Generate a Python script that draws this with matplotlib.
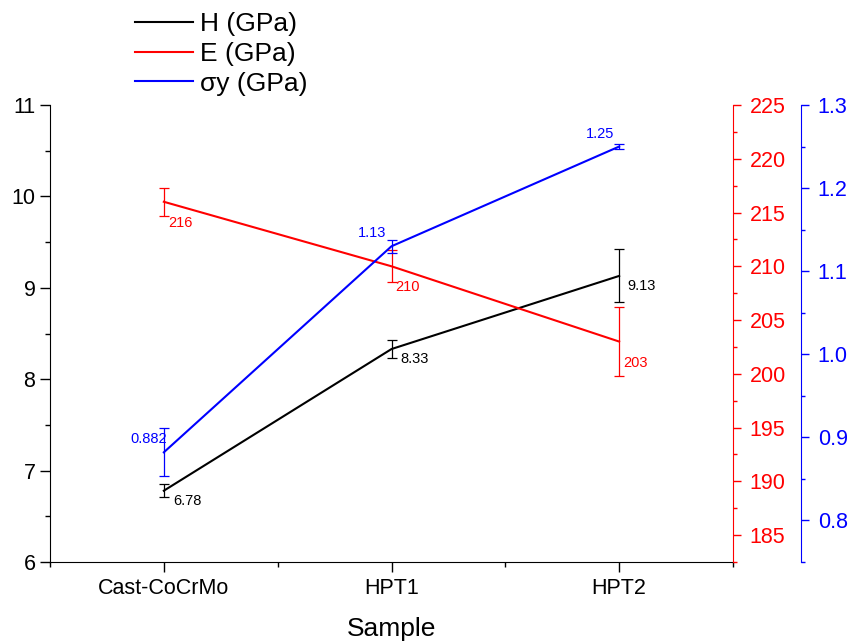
import numpy as np
import matplotlib
matplotlib.use("Agg")
import matplotlib.pyplot as plt
from matplotlib.ticker import MultipleLocator, FixedLocator
from matplotlib.lines import Line2D

plt.rcParams['font.family'] = ['Liberation Sans', 'DejaVu Sans']

# data
samples = ["Cast-CoCrMo", "HPT1", "HPT2"]
H = [6.78, 8.33, 9.13]
H_err = [0.07, 0.10, 0.29]
E = [216, 210, 203]
E_err = [1.3, 1.5, 3.2]
sy = [0.882, 1.13, 1.25]
sy_err = [0.029, 0.008, 0.003]


def main():
    x = np.arange(len(samples))

    fig = plt.figure(figsize=(8.51, 6.41), dpi=100)
    ax = fig.add_axes([50 / 851, 1 - 562 / 641, 683 / 851, 457 / 641])
    ax2 = ax.twinx()
    ax3 = ax.twinx()

    # H on left axis
    ax.plot(x, H, color='black', lw=1.5)
    ax.errorbar(x, H, yerr=H_err, fmt='none', ecolor='black', elinewidth=0.9, capsize=3.6, capthick=0.9)
    ax.set_ylim(6, 11)
    ax.set_xlim(-0.5, 2.5)
    ax.yaxis.set_major_locator(MultipleLocator(1))
    ax.yaxis.set_minor_locator(MultipleLocator(0.5))
    ax.set_xticks(x)
    ax.set_xticklabels(samples)
    ax.xaxis.set_minor_locator(FixedLocator([-0.5, 0.5, 1.5, 2.5]))
    ax.set_xlabel("Sample", fontsize=19, labelpad=13)
    ax.spines['top'].set_visible(False)
    ax.spines['right'].set_visible(False)
    ax.tick_params(which='major', length=7, width=1, labelsize=15.5, direction='out')
    ax.tick_params(axis='x', which='major', pad=4.5)
    ax.tick_params(which='minor', length=3.6, width=1, direction='out')

    # E on red axis
    ax2.plot(x, E, color='red', lw=1.5)
    ax2.errorbar(x, E, yerr=E_err, fmt='none', ecolor='red', elinewidth=0.9, capsize=3.6, capthick=0.9)
    ax2.set_ylim(182.5, 225)
    ax2.yaxis.set_major_locator(MultipleLocator(5))
    ax2.yaxis.set_minor_locator(MultipleLocator(2.5))
    ax2.spines['right'].set_color('red')
    ax2.spines['top'].set_visible(False)
    ax2.spines['left'].set_visible(False)
    ax2.spines['bottom'].set_visible(False)
    ax2.tick_params(axis='y', which='major', colors='red', length=6, width=1, labelsize=15.5, pad=6)
    ax2.tick_params(axis='y', which='minor', colors='red', length=3.2, width=1)

    # yield strength on blue axis
    ax3.plot(x, sy, color='blue', lw=1.5)
    ax3.errorbar(x, sy, yerr=sy_err, fmt='none', ecolor='blue', elinewidth=0.9, capsize=3.6, capthick=0.9)
    ax3.set_ylim(0.75, 1.30)
    ax3.yaxis.set_major_locator(MultipleLocator(0.1))
    ax3.yaxis.set_minor_locator(MultipleLocator(0.05))
    ax3.spines['right'].set_position(('outward', 49))
    ax3.spines['right'].set_color('blue')
    ax3.spines['top'].set_visible(False)
    ax3.spines['left'].set_visible(False)
    ax3.spines['bottom'].set_visible(False)
    ax3.tick_params(axis='y', which='major', colors='blue', length=6, width=1, labelsize=15.5, pad=6)
    ax3.tick_params(axis='y', which='minor', colors='blue', length=3.2, width=1)

    # value labels
    for i in range(len(samples)):
        dx = 9 if i < 2 else 8
        ax.annotate(f"{H[i]:.2f}", (x[i], H[i]), xytext=(dx, -10), textcoords='offset pixels',
                    ha='left', va='center', fontsize=10.5, color='black')
        ax2.annotate(f"{E[i]}", (x[i], E[i]), xytext=(4, -21), textcoords='offset pixels',
                     ha='left', va='center', fontsize=10.5, color='red')
        ax3.annotate(f"{sy[i]:g}", (x[i], sy[i]), xytext=(3 if i == 0 else -5, 13), textcoords='offset pixels',
                     ha='right', va='center', fontsize=10.5, color='blue')

    handles = [Line2D([], [], color='black', lw=1.5),
               Line2D([], [], color='red', lw=1.5),
               Line2D([], [], color='blue', lw=1.5)]
    fig.legend(handles, ["H (GPa)", "E (GPa)", "σy (GPa)"], loc='upper left',
               bbox_to_anchor=(135 / 851, 1 - 12 / 641), frameon=False, fontsize=19,
               handlelength=2.2, handletextpad=0.27, labelspacing=0.22,
               borderpad=0, borderaxespad=0)

    fig.savefig("out.png", dpi=100)


if __name__ == "__main__":
    main()
